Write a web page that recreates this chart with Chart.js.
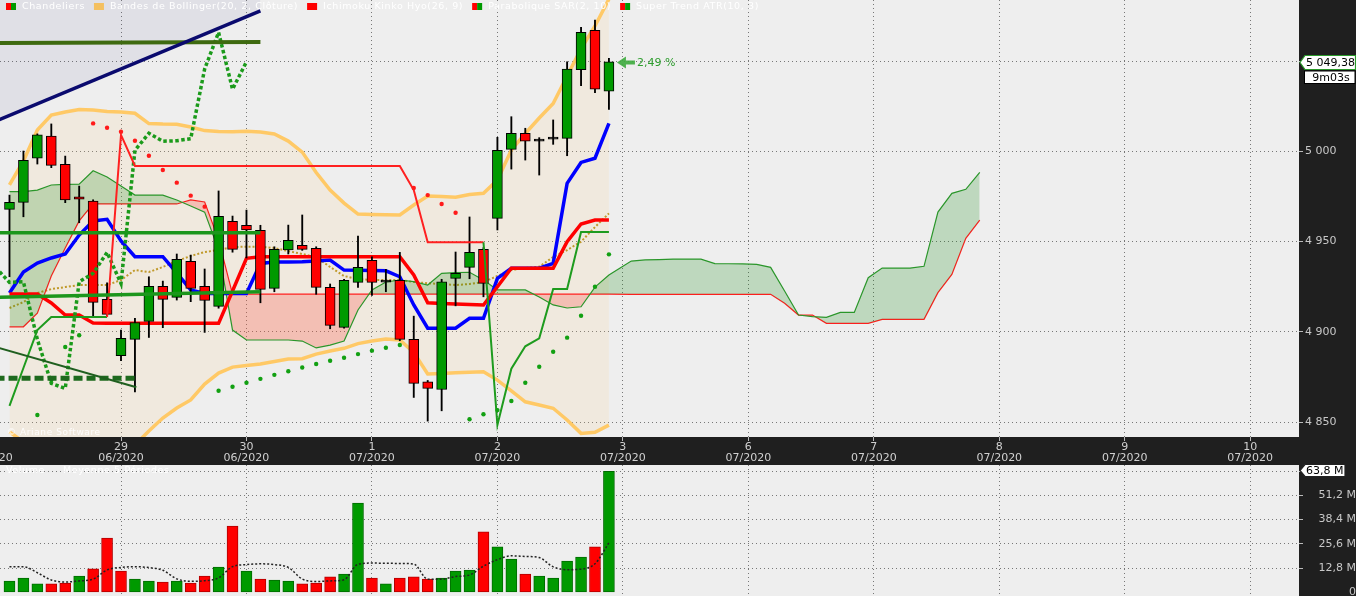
<!DOCTYPE html>
<html>
<head>
<meta charset="utf-8">
<script src="https://cdn.jsdelivr.net/npm/chart.js@4.4.1/dist/chart.umd.min.js"></script>
<style>
  html, body { margin: 0; padding: 0; background: #1f1f1f; }
  #wrap { position: relative; width: 1356px; height: 596px; overflow: hidden; }
  #price { position: absolute; left: 0; top: 0; }
  #vol { position: absolute; left: 0; top: 463px; }
</style>
</head>
<body>
<div id="wrap">
  <canvas id="price" width="1356" height="463"></canvas>
  <canvas id="vol" width="1356" height="133"></canvas>
</div>
<script>
///// data : CAC 40, bougies horaires /////
const opens  = [4967.7,4971.6,4996.0,5008.3,4992.6,4974.7,4972.3,4917.9,4886.7,4895.7,4905.7,4925.1,4919.0,4938.9,4925.1,4914.0,4961.1,4958.9,4956.1,4924.0,4945.2,4947.8,4946.1,4924.5,4902.4,4927.3,4939.5,4927.4,4928.4,4895.7,4872.3,4868.0,4929.5,4935.6,4945.6,4962.7,5000.9,5009.8,5005.5,5006.6,5007.0,5045.0,5066.8,5033.1];
const highs  = [4975.6,5000.0,5009.5,5015.0,4997.2,4980.6,4973.0,4927.0,4900.9,4907.4,4930.4,4928.0,4943.0,4942.4,4934.7,4977.9,4964.0,4967.3,4958.9,4947.0,4959.0,4964.6,4947.0,4926.4,4929.0,4952.9,4941.5,4934.5,4943.9,4908.6,4873.0,4929.0,4944.1,4963.5,4946.5,5007.6,5019.0,5012.6,5007.4,5017.2,5049.4,5068.5,5072.5,5051.3];
const lows   = [4930.4,4963.6,4992.8,4990.8,4971.4,4960.3,4908.0,4908.5,4883.9,4866.7,4896.8,4902.2,4917.5,4916.6,4899.6,4913.0,4944.0,4940.8,4916.0,4922.1,4943.0,4945.0,4920.7,4901.6,4902.0,4924.5,4920.1,4922.1,4895.0,4863.6,4850.5,4856.2,4914.3,4929.3,4919.3,4956.3,4990.0,4995.0,4986.7,5003.7,4997.4,5036.2,5032.3,5023.1];
const closes = [4971.6,4994.9,5008.9,4992.1,4972.9,4973.3,4916.2,4909.6,4896.3,4905.1,4925.1,4917.9,4940.0,4924.0,4917.3,4963.8,4945.6,4956.3,4923.4,4945.6,4950.6,4945.6,4924.5,4903.5,4928.4,4935.6,4927.3,4927.6,4895.7,4871.4,4868.6,4927.6,4932.3,4943.9,4926.7,5000.4,5009.8,5005.4,5005.7,5006.8,5045.4,5065.7,5034.2,5049.38];

// volumes en millions
const volumes = [5.9,7.5,4.4,4.4,4.9,8.6,12.3,28.6,11.2,7.0,5.9,5.4,5.9,4.9,8.6,13.3,34.9,11.2,7.0,6.5,5.9,4.4,4.9,8.1,9.6,47.0,7.5,4.4,7.5,8.1,7.0,7.5,11.2,11.7,31.8,23.9,17.5,9.6,8.6,7.5,16.5,18.6,23.9,63.8];
const volumeAvg5 = [13.5,13.5,10.3,6.5,5.4,6.0,6.9,11.8,13.1,13.5,13.0,11.6,7.1,5.8,6.1,7.6,13.5,14.6,15.0,14.6,13.1,7.0,5.7,6.0,6.6,14.8,15.4,15.3,15.2,14.9,6.9,6.9,8.3,9.1,13.8,17.2,19.2,18.9,18.3,13.4,11.9,12.2,15.0,26.1];

// Bollinger (20, 2)
const bollUpper  = [4981.2,4994.5,5011.6,5019.9,5021.6,5023.0,5022.7,5021.9,5021.6,5020.9,5015.2,5014.9,5014.8,5013.3,5011.3,5010.8,5010.7,5011.0,5010.5,5009.4,5005.5,4999.4,4988.1,4978.4,4971.2,4965.1,4964.9,4964.7,4964.6,4970.1,4975.1,4974.8,4974.4,4975.9,4976.6,4983.9,5000.6,5009.7,5018.3,5026.3,5041.5,5056.5,5069.2,5084.1];
const bollMiddle = [4913.1,4916.4,4921.4,4923.6,4924.7,4925.8,4925.8,4925.8,4928.6,4934.1,4933.0,4935.8,4939.1,4941.9,4944.1,4945.2,4946.9,4947.0,4947.0,4946.3,4944.6,4943.0,4941.3,4935.8,4930.8,4929.1,4928.6,4928.6,4928.6,4927.5,4926.8,4926.4,4925.8,4926.4,4927.5,4930.8,4934.1,4935.2,4936.0,4941.3,4945.2,4949.8,4957.9,4965.5];
const bollLower  = [4844.5,4839.0,4831.2,4827.3,4827.9,4828.4,4829.0,4829.5,4831.7,4837.3,4845.0,4852.2,4857.7,4862.2,4871.0,4877.1,4880.4,4881.3,4882.1,4883.5,4884.9,4885.0,4887.6,4889.3,4890.8,4893.4,4894.8,4895.9,4895.4,4888.5,4876.6,4876.8,4877.3,4877.6,4877.8,4873.2,4867.2,4861.2,4859.4,4857.6,4851.1,4843.7,4844.3,4848.3];

// Ichimoku (26, 9)
const tenkan = [4921.4,4933.0,4938.0,4940.8,4943.0,4953.5,4961.3,4962.2,4950.2,4941.5,4941.5,4941.5,4932.5,4923.1,4921.2,4921.2,4921.2,4921.2,4937.8,4938.6,4938.6,4938.7,4939.1,4939.7,4934.1,4934.0,4933.9,4933.7,4930.4,4914.8,4901.9,4901.9,4901.9,4907.4,4907.4,4929.5,4935.1,4935.1,4935.1,4937.8,4982.1,4993.7,4996.0,5015.3];
const kijun  = [4920.8,4920.8,4920.8,4915.9,4909.2,4909.2,4904.8,4904.6,4904.6,4904.6,4904.6,4904.6,4904.6,4904.6,4904.6,4904.6,4922.5,4940.6,4941.5,4941.5,4941.5,4941.5,4941.5,4941.5,4941.5,4941.5,4941.5,4941.5,4941.5,4931.4,4916.0,4915.6,4915.3,4915.0,4914.8,4924.9,4935.1,4935.1,4935.1,4935.1,4949.8,4959.6,4961.8,4961.8];
const senkouA = [4977.5,4977.5,4978.4,4981.2,4981.5,4981.6,4989.1,4985.6,4980.6,4975.6,4975.6,4975.6,4972.9,4969.6,4966.2,4945.2,4900.9,4895.4,4895.4,4895.4,4895.4,4894.8,4891.0,4892.6,4894.8,4912.0,4923.1,4927.5,4928.6,4927.7,4925.8,4932.3,4932.7,4932.9,4928.6,4923.1,4923.1,4923.1,4919.2,4914.8,4913.1,4913.8,4924.7,4931.4,4939.1,4939.7,4939.9,4940.2,4940.2,4940.2,4937.7,4937.6,4937.5,4937.3,4935.6,4922.5,4909.2,4908.3,4907.9,4910.7,4910.7,4929.9,4935.2,4935.2,4935.2,4936.2,4966.2,4976.6,4978.8,4988.2];
const senkouB = [4902.7,4902.7,4910.2,4930.8,4946.3,4961.3,4970.7,4970.7,4970.7,4970.7,4970.7,4970.7,4970.7,4972.9,4971.8,4950.8,4920.8,4920.8,4920.8,4920.8,4920.8,4920.8,4920.8,4920.8,4920.8,4920.8,4920.8,4920.8,4920.8,4920.8,4920.8,4920.8,4920.8,4920.8,4920.8,4920.8,4920.8,4920.8,4920.8,4920.8,4920.8,4920.8,4920.8,4920.8,4920.7,4920.7,4920.7,4920.7,4920.7,4920.7,4920.7,4920.7,4920.7,4920.7,4920.7,4915.7,4909.2,4909.2,4904.6,4904.6,4904.6,4904.6,4906.8,4906.8,4906.8,4906.8,4921.6,4931.7,4951.7,4961.8];
const futureShift = 0.6;   // décalage des points projetés du nuage
const chikouLag = 26;

// Parabolique SAR(2, 10) et Super Trend ATR(10, 3)
const sar = [4835,4838,4853.9,4873.2,4891.5,4898.0,5015.3,5012.9,5010.7,5005.7,4997.4,4989.5,4982.5,4975.3,4969.2,4867.3,4869.5,4871.7,4873.9,4876.1,4878.1,4880.2,4882.1,4883.9,4885.6,4887.6,4889.5,4891.1,4892.6,4979.5,4975.6,4970.7,4965.8,4851.5,4854.3,4856.6,4861.6,4871.7,4880.6,4888.9,4896.7,4908.8,4924.9,4942.8];
const superTrend = [4858.9,4879.9,4900.9,4908.1,4908.1,4908.1,4908.1,4908.1,5008.9,4991.7,4991.7,4991.7,4991.7,4991.7,4991.7,4991.7,4991.7,4991.7,4991.7,4991.7,4991.7,4991.7,4991.7,4991.7,4991.7,4991.7,4991.7,4991.7,4991.7,4978.4,4949.5,4949.5,4949.5,4949.5,4949.5,4848.3,4879.5,4891.9,4896.3,4923.6,4923.6,4955.2,4955.2,4955.2];

// tracés manuels (index de bougie, cours)
const trendX = [-1, 18];
const navyTrend = [5016.5, 5077.6];
const oliveTrend = [5059.8, 5060.3];
const greenTrendHigh = [4954.8, 4954.8];
const greenTrendLow = [4919.0, 4922.1];
const shortTrendX = [-1, 9.1];
const darkTrend = [4891.5, 4869.2];
const dashedTrend = [4874.2, 4874.2];

// axes
const dayTicks = [-1.4, 8, 17, 26, 35, 44, 53, 62, 71, 80, 89];
const dayLabels = [['','06/2020'],['29','06/2020'],['30','06/2020'],['1','07/2020'],['2','07/2020'],['3','07/2020'],['6','07/2020'],['7','07/2020'],['8','07/2020'],['9','07/2020'],['10','07/2020']];
const priceTicks = [4850, 4900, 4950, 5000];
const volTicks = [0, 12.8, 25.6, 38.4, 51.2];
const dayChange = '2,49 %';
const timeLeft = '9m03s';

const X_MIN = -0.68, X_MAX = 92.5;
const Y_MIN = 4841.7, Y_MAX = 5083.6;
const FONT = "'DejaVu Sans', sans-serif";
const GREEN = '#009a00', RED = '#ff0000';
Chart.defaults.font.family = FONT;

function fmtNum(v, dec) {
  const parts = v.toFixed(dec).split('.');
  const int = parts[0].replace(/\B(?=(\d{3})+(?!\d))/g, ' ');
  return parts[1] ? int + ',' + parts[1] : int;
}
const pts = (xs, ys) => ys.map((v, i) => ({ x: xs[i], y: v }));
const idx = closes.map((_, i) => i);
const cloudX = senkouA.map((_, i) => i < closes.length ? i : i + futureShift);
const chikouX = [], chikouY = [];
closes.forEach((c, i) => { if (i >= chikouLag - 1) { chikouX.push(i - chikouLag); chikouY.push(c); } });
const isDoji = i => Math.abs(closes[i] - opens[i]) < 0.5;
const bodyColors = idx.map(i => isDoji(i) ? '#000' : (closes[i] >= opens[i] ? GREEN : RED));
const volUp = idx.map(i => closes[i] >= (i > 0 ? closes[i - 1] : opens[i]));
const last = closes[closes.length - 1];

const panelBg = {
  id: 'panelBg',
  beforeDraw(chart) {
    const { ctx, chartArea: a, width, height } = chart;
    ctx.save();
    ctx.fillStyle = '#1f1f1f';
    ctx.fillRect(0, 0, width, height);
    ctx.fillStyle = '#eeeeee';
    ctx.fillRect(a.left, a.top, a.right - a.left, a.bottom - a.top);
    ctx.restore();
  }
};

function tag(ctx, x0, yc, w, h, stroke, text) {
  ctx.beginPath();
  ctx.moveTo(x0, yc);
  ctx.lineTo(x0 + 5, yc - h / 2);
  ctx.lineTo(x0 + w, yc - h / 2);
  ctx.lineTo(x0 + w, yc + h / 2);
  ctx.lineTo(x0 + 5, yc + h / 2);
  ctx.closePath();
  ctx.fillStyle = '#fff';
  ctx.fill();
  ctx.strokeStyle = stroke;
  ctx.lineWidth = 1.2;
  ctx.stroke();
  ctx.fillStyle = '#000';
  ctx.font = '11px ' + FONT;
  ctx.textAlign = 'left';
  ctx.textBaseline = 'middle';
  ctx.fillText(text, x0 + 6, yc + 0.5);
}

function legendRow(ctx, items, x, y) {
  ctx.font = '9.5px ' + FONT;
  ctx.letterSpacing = '0.6px';
  ctx.textBaseline = 'middle';
  ctx.textAlign = 'left';
  items.forEach(it => {
    if (it.colors) {
      const w = 10 / it.colors.length;
      it.colors.forEach((c, j) => { ctx.fillStyle = c; ctx.fillRect(x + j * w, y - 3.5, w, 7); });
      x += 16;
    }
    ctx.fillStyle = '#ffffff';
    ctx.fillText(it.text, x, y);
    x += ctx.measureText(it.text).width + (it.gap || 9);
  });
  ctx.letterSpacing = '0px';
}

const priceOverlay = {
  id: 'priceOverlay',
  afterDatasetsDraw(chart) {
    const { ctx, chartArea: a } = chart;
    ctx.save();
    ctx.font = '9px ' + FONT;
    ctx.letterSpacing = '0.6px';
    ctx.fillStyle = 'rgba(255,255,255,0.9)';
    ctx.textBaseline = 'middle';
    ctx.fillText('\u00A9 Ariane Software', a.left + 7, a.bottom - 4);
    ctx.restore();
  },
  afterDraw(chart) {
    const { ctx, scales: { x, y } } = chart;
    const py = Math.round(y.getPixelForValue(last)) + 0.5;
    ctx.save();
    legendRow(ctx, [
      { colors: [RED, GREEN], text: 'Chandeliers' },
      { colors: ['#f4c060'], text: 'Bandes de Bollinger(20, 2, Cl\u00f4ture)' },
      { colors: [RED], text: 'Ichimoku Kinko Hyo(26, 9)' },
      { colors: [RED, GREEN], text: 'Parabolique SAR(2, 10)' },
      { colors: [RED, GREEN], text: 'Super Trend ATR(10, 3)' }
    ], 6, 6.5);

    // variation du jour
    const ax = x.getPixelForValue(closes.length - 1) + 8;
    ctx.fillStyle = 'rgba(60,170,60,0.9)';
    ctx.beginPath();
    ctx.moveTo(ax, py);
    ctx.lineTo(ax + 9, py - 6);
    ctx.lineTo(ax + 9, py - 2);
    ctx.lineTo(ax + 18, py - 2);
    ctx.lineTo(ax + 18, py + 2);
    ctx.lineTo(ax + 9, py + 2);
    ctx.lineTo(ax + 9, py + 6);
    ctx.closePath();
    ctx.fill();
    ctx.fillStyle = '#2e9e2e';
    ctx.font = '11px ' + FONT;
    ctx.textBaseline = 'middle';
    ctx.fillText(dayChange, ax + 20, py + 1);

    // étiquette du dernier cours
    tag(ctx, x.right + 1, py, 55.5, 14, '#2a9a2a', fmtNum(last, 2));
    ctx.fillStyle = '#fff';
    ctx.fillRect(1304.5, py + 8.5, 50.5, 12.5);
    ctx.strokeStyle = '#000';
    ctx.lineWidth = 1;
    ctx.strokeRect(1304.5, py + 8.5, 50.5, 12.5);
    ctx.fillStyle = '#000';
    ctx.textAlign = 'center';
    ctx.fillText(timeLeft, 1331, py + 15.5);
    ctx.restore();
  }
};

const volOverlay = {
  id: 'volOverlay',
  afterDraw(chart) {
    const { ctx, scales: { x, y } } = chart;
    ctx.save();
    legendRow(ctx, [
      { text: 'Volume', gap: 18 },
      { text: 'Moyenne 5 P\u00e9riodes' }
    ], 6, 8);
    const lv = volumes[volumes.length - 1];
    tag(ctx, x.right + 1, Math.round(y.getPixelForValue(lv)) - 0.5, 45, 12, '#222', lv.toFixed(1).replace('.', ',') + ' M');
    ctx.restore();
  }
};

const lineDs = (label, xs, ys, color, width, order, extra) => Object.assign({
  type: 'line', label, data: pts(xs, ys), borderColor: color, borderWidth: width,
  pointRadius: 0, fill: false, order
}, extra || {});

new Chart(document.getElementById('price'), {
  type: 'line',
  data: {
    datasets: [
      lineDs('navyFill', trendX, navyTrend, 'rgba(0,0,0,0)', 0, 40, { fill: 'end', backgroundColor: 'rgba(60,60,140,0.08)' }),
      lineDs('bollUpper', idx, bollUpper, '#ffc966', 3.5, 39, { fill: '+1', backgroundColor: 'rgba(255,205,130,0.14)' }),
      lineDs('bollLower', idx, bollLower, '#ffc966', 3.5, 38),
      lineDs('bollMiddle', idx, bollMiddle, '#c09a2c', 2, 37, { borderDash: [2, 2] }),
      lineDs('senkouB', cloudX, senkouB, '#ff2020', 1.2, 36),
      lineDs('senkouA', cloudX, senkouA, '#2a962a', 1.2, 35, { fill: { target: '-1', above: 'rgba(0,130,0,0.2)', below: 'rgba(255,40,30,0.22)' } }),
      lineDs('tenkan', idx, tenkan, '#0000ff', 3.5, 34),
      lineDs('kijun', idx, kijun, '#ff0000', 3.5, 33),
      {
        type: 'bar', label: 'wicks', data: idx.map(i => ({ x: i, y: [lows[i], highs[i]] })),
        backgroundColor: '#000', barThickness: 1.2, grouped: false, borderWidth: 0, order: 32
      },
      {
        type: 'bar', label: 'bodies', data: idx.map(i => ({ x: i, y: [opens[i], closes[i]] })),
        backgroundColor: bodyColors, borderColor: '#000', borderWidth: 1, borderSkipped: false,
        barThickness: 10, minBarLength: 2, grouped: false, order: 31
      },
      lineDs('chikou', chikouX, chikouY, '#1a9a1a', 3.5, 20, { borderDash: [3.5, 2.5] }),
      lineDs('superTrend', idx, superTrend, '#1e9b1e', 2, 19, {
        segment: { borderColor: c => superTrend[c.p1DataIndex] < closes[c.p1DataIndex] ? '#1e9b1e' : '#ff2020' }
      }),
      lineDs('sar', idx, sar, '#000', 0, 18, {
        showLine: false, pointRadius: 2.2, pointBorderWidth: 0,
        pointBackgroundColor: idx.map(i => sar[i] > closes[i] ? '#ff1a1a' : '#12a012')
      }),
      lineDs('greenHigh', trendX, greenTrendHigh, '#1c961c', 3.5, 10),
      lineDs('greenLow', trendX, greenTrendLow, '#1c961c', 3.5, 10),
      lineDs('olive', trendX, oliveTrend, '#3e6a10', 4, 10),
      lineDs('dark', shortTrendX, darkTrend, '#1f5f1f', 2, 10),
      lineDs('dashed', shortTrendX, dashedTrend, '#1e6a1e', 5, 10, { borderDash: [9, 4] }),
      lineDs('navy', trendX, navyTrend, '#0a0a6e', 3.5, 9)
    ]
  },
  options: {
    responsive: false, animation: false, events: [],
    layout: { padding: 0, autoPadding: false },
    plugins: { legend: { display: false }, tooltip: { enabled: false } },
    elements: { point: { radius: 0 }, line: { tension: 0 } },
    scales: {
      x: {
        type: 'linear', min: X_MIN, max: X_MAX, offset: false,
        afterBuildTicks: s => { s.ticks = dayTicks.map(v => ({ value: v })); },
        afterFit: s => { s.height = 26; s.paddingLeft = 0; s.paddingRight = 0; },
        ticks: {
          autoSkip: false, maxRotation: 0, color: '#d0d0d0', padding: 1,
          font: { size: 11, lineHeight: 1.0 },
          callback: (v, i) => dayLabels[i]
        },
        grid: { offset: false, color: '#777', lineWidth: 1, drawTicks: true, tickLength: 4, tickColor: '#bbb' },
        border: { display: false, dash: [1, 3] }
      },
      y: {
        position: 'right', min: Y_MIN, max: Y_MAX,
        afterBuildTicks: s => { s.ticks = priceTicks.concat([last]).map(v => ({ value: v })); },
        afterFit: s => { s.width = 57; s.paddingTop = 0; s.paddingBottom = 0; },
        ticks: {
          color: '#c8c8c8', padding: 2, font: { size: 11 },
          callback: v => v === last ? '' : fmtNum(v, 0)
        },
        grid: { color: '#777', lineWidth: 1, tickLength: 4, tickColor: '#bbb' },
        border: { display: false, dash: [1, 3] }
      }
    }
  },
  plugins: [panelBg, priceOverlay]
});

new Chart(document.getElementById('vol'), {
  type: 'line',
  data: {
    datasets: [
      {
        type: 'line', label: 'Moyenne 5 P\u00e9riodes', data: pts(idx, volumeAvg5),
        borderColor: '#222', borderWidth: 1.5, borderDash: [2, 2], pointRadius: 0,
        tension: 0.4, cubicInterpolationMode: 'monotone', fill: false, order: 1
      },
      {
        type: 'bar', label: 'Volume', data: pts(idx, volumes),
        backgroundColor: volUp.map(u => u ? GREEN : RED),
        borderColor: volUp.map(u => u ? '#006a00' : '#b00000'),
        borderWidth: 1, borderSkipped: false, barThickness: 11, grouped: false, order: 2
      }
    ]
  },
  options: {
    responsive: false, animation: false, events: [],
    layout: { padding: { top: 2, left: 0, right: 0, bottom: 0 }, autoPadding: false },
    plugins: { legend: { display: false }, tooltip: { enabled: false } },
    scales: {
      x: {
        type: 'linear', min: X_MIN, max: X_MAX, offset: false,
        afterBuildTicks: s => { s.ticks = dayTicks.map(v => ({ value: v })); },
        afterFit: s => { s.height = 0; s.paddingLeft = 0; s.paddingRight = 0; },
        ticks: { display: false },
        grid: { offset: false, color: '#777', drawTicks: false },
        border: { display: false, dash: [1, 3] }
      },
      y: {
        position: 'right', min: -1.95, max: 67.07,
        afterBuildTicks: s => { s.ticks = volTicks.concat([volumes[volumes.length - 1]]).map(v => ({ value: v })); },
        afterFit: s => { s.width = 57; s.paddingTop = 0; s.paddingBottom = 0; },
        ticks: {
          color: '#c8c8c8', padding: 2, crossAlign: 'far', font: { size: 11 },
          callback: v => v === volumes[volumes.length - 1] ? '' : (v === 0 ? '0' : v.toFixed(1).replace('.', ',') + ' M')
        },
        grid: {
          color: c => c.tick && c.tick.value === 0 ? 'rgba(0,0,0,0)' : '#777',
          tickLength: 4, tickColor: c => c.tick && c.tick.value === 0 ? 'rgba(0,0,0,0)' : '#bbb'
        },
        border: { display: false, dash: [1, 3] }
      }
    }
  },
  plugins: [panelBg, volOverlay]
});
</script>
</body>
</html>
